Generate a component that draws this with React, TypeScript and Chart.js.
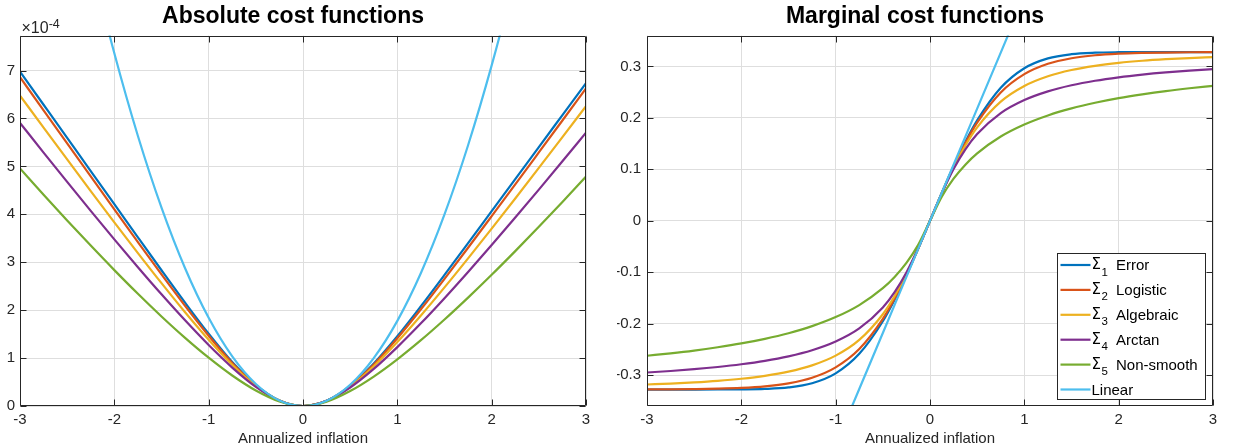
import React, { useEffect, useRef } from 'react';
import { Chart, registerables } from 'chart.js';

Chart.register(...registerables);

// ---------------- data ----------------
const absGrid = [-3, -2.75, -2.5, -2.25, -2, -1.75, -1.5, -1.25, -1, -0.75, -0.5, -0.25, 0,
  0.25, 0.5, 0.75, 1, 1.25, 1.5, 1.75, 2, 2.25, 2.5, 2.75, 3];
const mcGrid = [-3, -2.75, -2.5, -2.25, -2, -1.75, -1.5, -1.25, -1, -0.75, -0.5, -0.375, -0.25, -0.125, 0,
  0.125, 0.25, 0.375, 0.5, 0.75, 1, 1.25, 1.5, 1.75, 2, 2.25, 2.5, 2.75, 3];

const xTicks = [-3, -2, -1, 0, 1, 2, 3];
const absYTicks = [0, 1, 2, 3, 4, 5, 6, 7];
const mcYTicks = [-0.3, -0.2, -0.1, 0, 0.1, 0.2, 0.3];
const absExponent = '-4';

const seriesNames = ['Error', 'Logistic', 'Algebraic', 'Arctan', 'Non-smooth', 'Linear'];
const sigmaIndex = ['1', '2', '3', '4', '5', ''];
const seriesColors = ['#0072BD', '#D95319', '#EDB120', '#7E2F8E', '#77AC30', '#4DBEEE'];

// Absolute cost functions (units of 1e-4), on absGrid
const absError = [6.979, 6.287, 5.595, 4.903, 4.212, 3.52, 2.833, 2.157, 1.508, 0.918, 0.435, 0.113, 0,
  0.109, 0.42, 0.887, 1.456, 2.083, 2.736, 3.399, 4.067, 4.734, 5.403, 6.071, 6.739];
const absLogistic = [6.862, 6.17, 5.48, 4.79, 4.103, 3.421, 2.747, 2.09, 1.466, 0.898, 0.43, 0.113, 0,
  0.109, 0.415, 0.868, 1.415, 2.018, 2.653, 3.303, 3.962, 4.625, 5.291, 5.958, 6.626];
const absAlgebraic = [6.479, 5.81, 5.145, 4.485, 3.833, 3.191, 2.563, 1.956, 1.382, 0.858, 0.418, 0.112, 0,
  0.108, 0.404, 0.829, 1.334, 1.889, 2.475, 3.081, 3.701, 4.331, 4.968, 5.61, 6.257];
const absArctan = [5.908, 5.289, 4.677, 4.073, 3.478, 2.896, 2.33, 1.787, 1.272, 0.802, 0.4, 0.11, 0,
  0.107, 0.386, 0.774, 1.229, 1.725, 2.25, 2.797, 3.359, 3.933, 4.516, 5.107, 5.705];
const absNonSmooth = [4.959, 4.41, 3.872, 3.347, 2.836, 2.342, 1.869, 1.422, 1.008, 0.636, 0.323, 0.095, 0,
  0.091, 0.312, 0.614, 0.973, 1.373, 1.805, 2.262, 2.738, 3.232, 3.739, 4.259, 4.789];
const absLinear = [16.56, 13.92, 11.5, 9.315, 7.36, 5.635, 4.14, 2.875, 1.84, 1.035, 0.46, 0.115, 0,
  0.111, 0.444, 1.0, 1.777, 2.777, 3.998, 5.442, 7.108, 8.996, 11.11, 13.44, 15.99];

// Marginal cost functions, on mcGrid
const mcError = [-0.328, -0.328, -0.328, -0.3279, -0.3277, -0.3268, -0.3239, -0.3158, -0.2966, -0.2586, -0.1952, -0.1535, -0.1059, -0.0541, 0,
  0.0541, 0.1059, 0.1535, 0.1952, 0.2586, 0.2966, 0.3158, 0.3239, 0.3268, 0.3277, 0.3279, 0.328, 0.328, 0.328];
const mcLogistic = [-0.3278, -0.3276, -0.3271, -0.3263, -0.3248, -0.3218, -0.316, -0.3052, -0.285, -0.2494, -0.1907, -0.1512, -0.1052, -0.054, 0,
  0.054, 0.1052, 0.1512, 0.1907, 0.2494, 0.285, 0.3052, 0.316, 0.3218, 0.3248, 0.3263, 0.3271, 0.3276, 0.3278];
const mcAlgebraic = [-0.3182, -0.3164, -0.3141, -0.3111, -0.307, -0.3013, -0.2932, -0.281, -0.2621, -0.2316, -0.1816, -0.1463, -0.1034, -0.0538, 0,
  0.0538, 0.1034, 0.1463, 0.1816, 0.2316, 0.2621, 0.281, 0.2932, 0.3013, 0.307, 0.3111, 0.3141, 0.3164, 0.3182];
const mcArctan = [-0.2949, -0.292, -0.2885, -0.2842, -0.2789, -0.2722, -0.2634, -0.2516, -0.2347, -0.2093, -0.1685, -0.1387, -0.1005, -0.0533, 0,
  0.0533, 0.1005, 0.1387, 0.1685, 0.2093, 0.2347, 0.2516, 0.2634, 0.2722, 0.2789, 0.2842, 0.2885, 0.292, 0.2949];
const mcNonSmooth = [-0.2623, -0.2576, -0.2522, -0.2458, -0.2384, -0.2294, -0.2185, -0.2048, -0.1872, -0.1638, -0.131, -0.1091, -0.0818, -0.0468, 0,
  0.0468, 0.0818, 0.1091, 0.131, 0.1638, 0.1872, 0.2048, 0.2185, 0.2294, 0.2384, 0.2458, 0.2522, 0.2576, 0.2623];
const mcLinear = [-1.308, -1.199, -1.09, -0.981, -0.872, -0.763, -0.654, -0.545, -0.436, -0.327, -0.218, -0.1635, -0.109, -0.0545, 0,
  0.0545, 0.109, 0.1635, 0.218, 0.327, 0.436, 0.545, 0.654, 0.763, 0.872, 0.981, 1.09, 1.199, 1.308];

// ---------------- styling ----------------
const FONT = '"Liberation Sans", Arial, Helvetica, sans-serif';
const SYMBOL_FONT = '"DejaVu Sans", "Liberation Sans", sans-serif';
const AXIS_COLOR = '#262626';
const GRID_COLOR = '#dedede';

Chart.defaults.font.family = FONT;

function makeDatasets(grid: number[], series: number[][]) {
  return series.map((vals, i) => ({
    label: sigmaIndex[i] ? `Σ${sigmaIndex[i]} ${seriesNames[i]}` : seriesNames[i],
    data: grid.map((x, j) => ({ x, y: vals[j] })),
    borderColor: seriesColors[i],
    backgroundColor: seriesColors[i],
    borderWidth: 2.2,
    pointRadius: 0,
    pointHoverRadius: 0,
    fill: false,
    cubicInterpolationMode: 'monotone' as const,
    order: series.length - i,
  }));
}

function drawBoxAndTicks(chart: any) {
  const { ctx, chartArea: a, scales } = chart;
  const L = Math.round(a.left) + 0.5;
  const R = Math.round(a.right) - 0.5;
  const T = Math.round(a.top) + 0.5;
  const B = Math.round(a.bottom) - 0.5;
  const tl = 6;
  ctx.save();
  ctx.strokeStyle = AXIS_COLOR;
  ctx.lineWidth = 1;
  ctx.beginPath();
  ctx.rect(L, T, R - L, B - T);
  scales.x.ticks.forEach((t: any) => {
    const px = Math.round(scales.x.getPixelForValue(t.value)) + 0.5;
    ctx.moveTo(px, B); ctx.lineTo(px, B - tl);
    ctx.moveTo(px, T); ctx.lineTo(px, T + tl);
  });
  scales.y.ticks.forEach((t: any) => {
    const py = Math.round(scales.y.getPixelForValue(t.value)) + 0.5;
    ctx.moveTo(L, py); ctx.lineTo(L + tl, py);
    ctx.moveTo(R, py); ctx.lineTo(R - tl, py);
  });
  ctx.stroke();
  ctx.restore();
}

function drawExponent(chart: any) {
  const { ctx, chartArea: a } = chart;
  ctx.save();
  ctx.fillStyle = AXIS_COLOR;
  ctx.textAlign = 'left';
  ctx.textBaseline = 'alphabetic';
  ctx.font = `16px ${FONT}`;
  const base = '\u00d710';
  const x0 = a.left + 1.5;
  ctx.fillText(base, x0, a.top - 2.5);
  const w = ctx.measureText(base).width;
  ctx.font = `12.5px ${FONT}`;
  ctx.fillText(absExponent, x0 + w, a.top - 7.5);
  ctx.restore();
}

function drawLegend(chart: any) {
  const { ctx, chartArea: a } = chart;
  const w = 148;
  const h = 146;
  const right = Math.round(a.right) - 8;
  const bottom = Math.round(a.bottom) - 7;
  const left = right - w;
  const top = bottom - h;
  ctx.save();
  ctx.fillStyle = '#ffffff';
  ctx.fillRect(left, top, w, h);
  ctx.strokeStyle = AXIS_COLOR;
  ctx.lineWidth = 1;
  ctx.strokeRect(left + 0.5, top + 0.5, w, h);
  const rowH = 24.9;
  const firstY = top + 12;
  seriesNames.forEach((name, i) => {
    const y = firstY + i * rowH;
    ctx.strokeStyle = seriesColors[i];
    ctx.lineWidth = 2.2;
    ctx.beginPath();
    ctx.moveTo(left + 3.5, y);
    ctx.lineTo(left + 33.5, y);
    ctx.stroke();
    ctx.fillStyle = '#000';
    ctx.textAlign = 'left';
    ctx.textBaseline = 'alphabetic';
    let tx = left + 34.5;
    if (sigmaIndex[i]) {
      ctx.font = `15px ${SYMBOL_FONT}`;
      ctx.fillText('Σ', tx, y + 4);
      tx += ctx.measureText('Σ').width + 0.5;
      ctx.font = `11.5px ${FONT}`;
      ctx.fillText(sigmaIndex[i], tx, y + 10.5);
      tx = left + 59;
    }
    ctx.font = `15px ${FONT}`;
    ctx.fillText(name, tx, y + 5);
  });
  ctx.restore();
}

interface PanelSpec {
  title: string;
  grid: number[];
  series: number[][];
  yMin: number;
  yMax: number;
  yTicks: number[];
  yFormat: (v: number) => string;
  yAxisWidth: number;
  padRight: number;
  yLabelPad: number;
  extra: (chart: any) => void;
}

function buildConfig(p: PanelSpec): any {
  const overlay = {
    id: 'matlabOverlay',
    afterDraw(chart: any) {
      drawBoxAndTicks(chart);
      p.extra(chart);
    },
  };
  return {
    type: 'line',
    data: { datasets: makeDatasets(p.grid, p.series) },
    plugins: [overlay],
    options: {
      responsive: false,
      animation: false,
      devicePixelRatio: 1,
      events: [],
      layout: { padding: { left: 0, right: p.padRight, top: 0, bottom: 0 } },
      plugins: {
        legend: { display: false },
        tooltip: { enabled: false },
        title: {
          display: true,
          text: p.title,
          color: '#000',
          font: { size: 23, weight: 'bold', family: FONT, lineHeight: 1.2 },
          padding: { top: 2.5, bottom: 5.5 },
        },
      },
      scales: {
        x: {
          type: 'linear',
          min: -3,
          max: 3,
          afterBuildTicks: (s: any) => { s.ticks = xTicks.map((v) => ({ value: v })); },
          afterFit: (s: any) => { s.height = 42; },
          ticks: {
            autoSkip: false,
            maxRotation: 0,
            minRotation: 0,
            padding: 5,
            color: AXIS_COLOR,
            font: { size: 15, family: FONT },
            callback: (v: any) => String(v),
          },
          grid: { color: GRID_COLOR, lineWidth: 1, drawTicks: false },
          border: { display: false },
          title: {
            display: true,
            text: 'Annualized inflation',
            color: AXIS_COLOR,
            font: { size: 15, family: FONT, lineHeight: 1.2 },
            padding: { top: 0, bottom: 0 },
          },
        },
        y: {
          type: 'linear',
          min: p.yMin,
          max: p.yMax,
          afterBuildTicks: (s: any) => { s.ticks = p.yTicks.map((v) => ({ value: v })); },
          afterFit: (s: any) => { s.width = p.yAxisWidth; },
          ticks: {
            autoSkip: false,
            padding: p.yLabelPad,
            color: AXIS_COLOR,
            font: { size: 15, family: FONT },
            callback: (v: any) => p.yFormat(Number(v)),
          },
          grid: { color: GRID_COLOR, lineWidth: 1, drawTicks: false },
          border: { display: false },
        },
      },
    },
  };
}

export default function App() {
  const leftRef = useRef<HTMLCanvasElement>(null);
  const rightRef = useRef<HTMLCanvasElement>(null);

  useEffect(() => {
    const left = new Chart(leftRef.current as HTMLCanvasElement, buildConfig({
      title: 'Absolute cost functions',
      grid: absGrid,
      series: [absError, absLogistic, absAlgebraic, absArctan, absNonSmooth, absLinear],
      yMin: 0,
      yMax: 7.73,
      yTicks: absYTicks,
      yFormat: (v) => String(Math.round(v)),
      yAxisWidth: 20,
      padRight: 31,
      yLabelPad: 5,
      extra: drawExponent,
    }));
    const right = new Chart(rightRef.current as HTMLCanvasElement, buildConfig({
      title: 'Marginal cost functions',
      grid: mcGrid,
      series: [mcError, mcLogistic, mcAlgebraic, mcArctan, mcNonSmooth, mcLinear],
      yMin: -0.36,
      yMax: 0.36,
      yTicks: mcYTicks,
      yFormat: (v) => (Math.abs(v) < 1e-9 ? '0' : v.toFixed(1)),
      yAxisWidth: 30,
      padRight: 22,
      yLabelPad: 6,
      extra: drawLegend,
    }));
    return () => {
      left.destroy();
      right.destroy();
    };
  }, []);

  return (
    <div style={{ position: 'absolute', left: 0, top: 0, width: 1235, height: 448, background: '#ffffff', overflow: 'hidden' }}>
      <canvas ref={leftRef} width={617} height={448} style={{ position: 'absolute', left: 0, top: 0, display: 'block' }} />
      <canvas ref={rightRef} width={618} height={448} style={{ position: 'absolute', left: 617, top: 0, display: 'block' }} />
    </div>
  );
}
